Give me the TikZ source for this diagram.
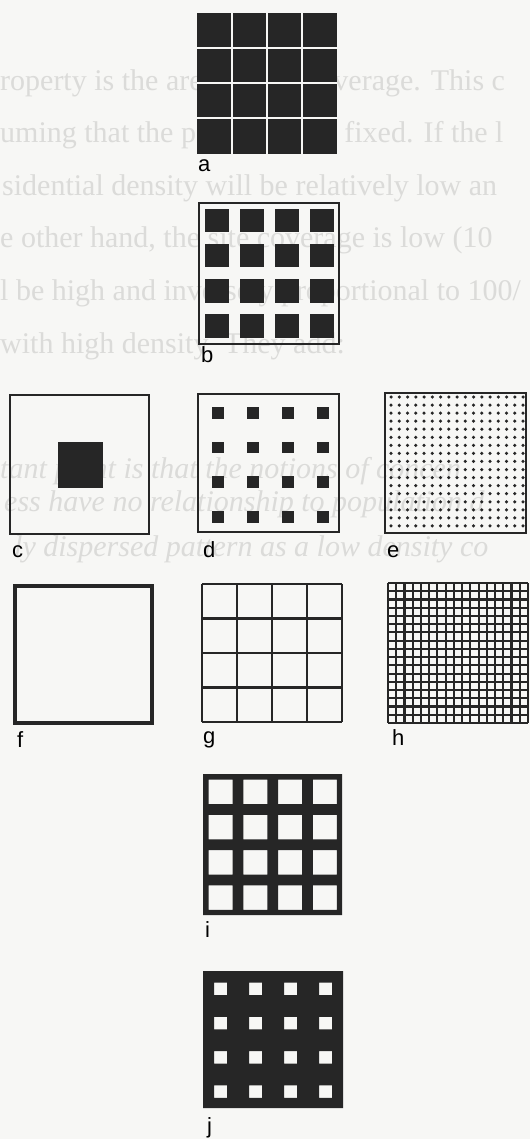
\documentclass[tikz,border=0pt]{standalone}
\usepackage{fontspec}
\setmainfont{Liberation Serif}
\setsansfont{Liberation Sans}
\usepackage{tikz}
\usetikzlibrary{positioning}
\definecolor{cInk}{HTML}{262626}
\definecolor{cPaper}{HTML}{F7F7F5}
\definecolor{cGhost}{HTML}{DBDBD9}
\tikzset{
  frame/.style={draw=cInk, line width=1.6pt},
  heavyframe/.style={draw=cInk, line width=3.2pt},
  gridline/.style={draw=cInk, line width=2.2pt},
  gap/.style={draw=cPaper, line width=2.2pt},
  lbl/.style={font=\sffamily\fontsize{22}{22}\selectfont, text=black,
              inner sep=0pt, anchor=base west},
  ghost/.style={font=\fontsize{30}{30}\selectfont, text=cGhost,
                inner sep=0pt, anchor=base west},
  ghostit/.style={ghost, font=\itshape\fontsize{30}{30}\selectfont}
}

\begin{document}
\begin{tikzpicture}[x=1pt, y=-1pt]
\useasboundingbox (0,0) rectangle (530,1139);
\fill[cPaper] (0,0) rectangle (530,1139);
\clip (0,0) rectangle (530,1139);
% show-through from the facing page
\node[ghost] (g1) at (0,91)  {roperty is the area of site coverage. This c};
\node[ghost] (g2) at (0,143) {uming that the population is fixed. If the l};
\node[ghost] (g3) at (2,196) {sidential density will be relatively low an};
\node[ghost] (g4) at (0,248) {e other hand, the site coverage is low (10};
\node[ghost] (g5) at (0,301) {l be high and inversely proportional to 100/};
\node[ghost] (g6) at (0,353) {with high density. They add:};
\node[ghostit] (q1) at (0,478) {tant point is that the notions of concen};
\node[ghostit] (q2) at (4,511) {ess have no relationship to population d};
\node[ghostit] (q3) at (14,556) {ly dispersed pattern as a low density co};

% a: solid blocks, hairline gaps
\begin{scope}[shift={(197,13)}]
  \fill[cInk] (0,0) rectangle (140,141);
  \foreach \k in {35,70,105} {
    \draw[gap] (\k,0) -- (\k,141);
    \draw[gap] (0,\k) -- (140,\k);
  }
\end{scope}
\node[lbl] (lblA) at (198,172) {a};

% b: blocks inside a frame
\begin{scope}[shift={(199,203)}]
  \draw[frame] (0,0) rectangle (140,141);
  \foreach \i in {0,...,3} \foreach \j in {0,...,3}
    \fill[cInk] (35*\i+6,35*\j+6) rectangle ++(23.5,23.5);
\end{scope}
\node[lbl] (lblB) at (201,362) {b};

% c: one block in the middle
\begin{scope}[shift={(10,395)}]
  \draw[frame] (0,0) rectangle (139,139);
  \fill[cInk] (48,47) rectangle ++(45,46);
\end{scope}
\node[lbl] (lblC) at (12,557) {c};

% d: small dots, 4 x 4
\begin{scope}[shift={(198,394)}]
  \draw[frame] (0,0) rectangle (141,138);
  \foreach \i in {0,...,3} \foreach \j in {0,...,3}
    \fill[cInk] (35*\i+14,34.7*\j+13) rectangle ++(11.5,11.5);
\end{scope}
\node[lbl] (lblD) at (203,557) {d};

% e: fine dot screen, 17 x 17
\begin{scope}[shift={(385,393)}]
  \draw[frame] (0,0) rectangle (141,140);
  \foreach \i in {0,...,16} \foreach \j in {0,...,16}
    \fill[cInk] (6+8.25*\i,4+8.06*\j) circle (1.75);
\end{scope}
\node[lbl] (lblE) at (387,557) {e};

% f: empty heavy frame
\draw[heavyframe] (15,586) rectangle (152,723);
\node[lbl] (lblF) at (17,747) {f};

% g: open 4 x 4 grid
\begin{scope}[shift={(202,584)}]
  \foreach \k in {0,1,2,3,4} {
    \draw[gridline] (35*\k,0) -- (35*\k,138);
    \draw[gridline] (0,34.5*\k) -- (140,34.5*\k);
  }
\end{scope}
\node[lbl] (lblG) at (203,743) {g};

% h: fine mesh, 17 x 17
\begin{scope}[shift={(388,583)}]
  \foreach \k in {0,...,17} {
    \draw[gridline, line width=2.1pt] (8.235*\k,0) -- (8.235*\k,140);
    \draw[gridline, line width=2.1pt] (0,8.235*\k) -- (140,8.235*\k);
  }
\end{scope}
\node[lbl] (lblH) at (392,745) {h};

% i: heavy bars round open cells
\begin{scope}[shift={(203,774)}]
  \fill[cInk, even odd rule] (0,0) rectangle (139,141)
    \foreach \i in {0,...,3} { \foreach \j in {0,...,3} {
      (34.75*\i+5.5,35.25*\j+5.5) rectangle ++(24,24.5) } };
\end{scope}
\node[lbl] (lblI) at (205,937) {i};

% j: small openings in a solid field
\begin{scope}[shift={(203,971)}]
  \fill[cInk, even odd rule] (0,0) rectangle (140,137)
    \foreach \i in {0,...,3} { \foreach \j in {0,...,3} {
      (35*\i+11,34.25*\j+11.5) rectangle ++(13,12.5) } };
\end{scope}
\node[lbl] (lblJ) at (207,1133) {j};
\end{tikzpicture}
\end{document}
